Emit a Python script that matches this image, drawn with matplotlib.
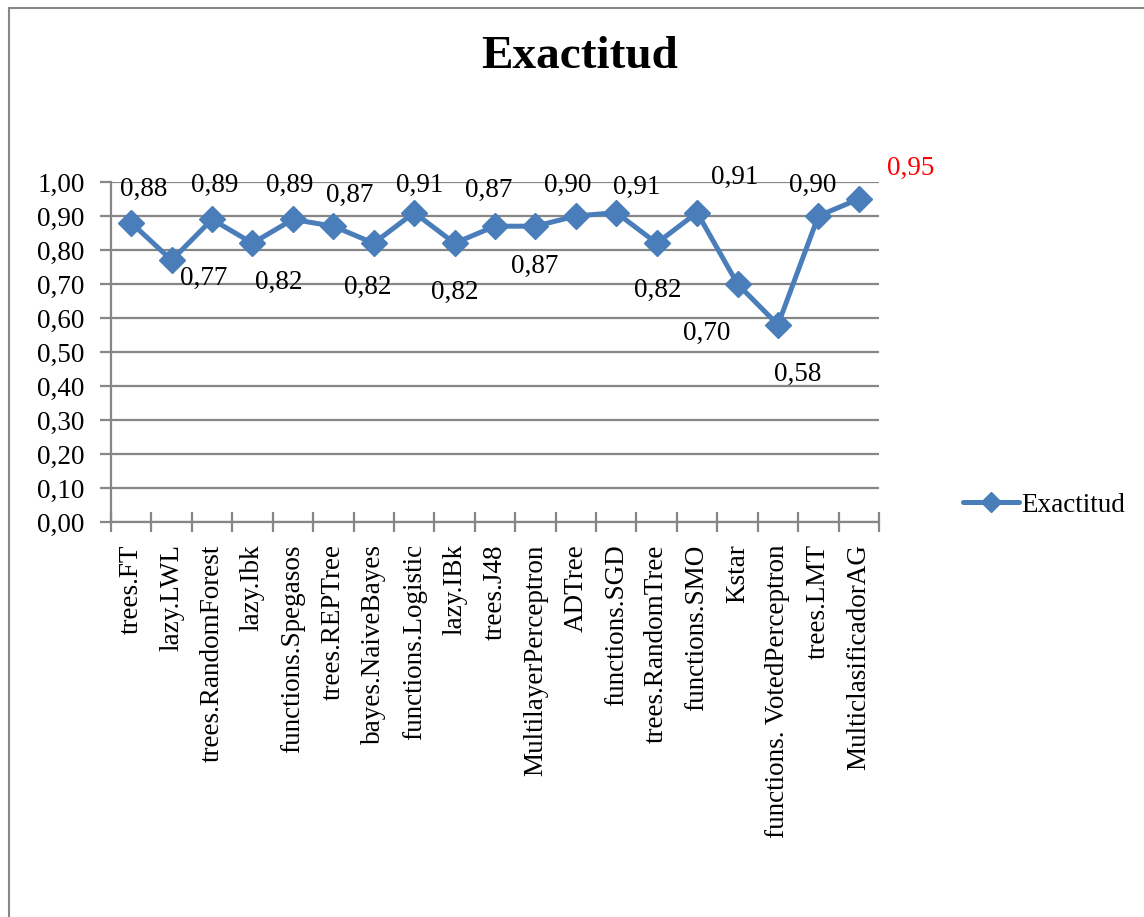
import matplotlib
matplotlib.use("Agg")
import matplotlib.pyplot as plt
from matplotlib.patches import Rectangle
from matplotlib.lines import Line2D
import numpy as np

plt.rcParams["font.family"] = ["Liberation Serif", "DejaVu Serif"]

# Clasificadores y su exactitud
clasificadores = [
    "trees.FT", "lazy.LWL", "trees.RandomForest", "lazy.Ibk",
    "functions.Spegasos", "trees.REPTree", "bayes.NaiveBayes",
    "functions.Logistic", "lazy.IBk", "trees.J48", "MultilayerPerceptron",
    "ADTree", "functions.SGD", "trees.RandomTree", "functions.SMO", "Kstar",
    "functions. VotedPerceptron", "trees.LMT", "MulticlasificadorAG",
]
exactitud = [0.88, 0.77, 0.89, 0.82, 0.89, 0.87, 0.82, 0.91, 0.82, 0.87,
             0.87, 0.90, 0.91, 0.82, 0.91, 0.70, 0.58, 0.90, 0.95]
y_ticks = [0.0, 0.1, 0.2, 0.3, 0.4, 0.5, 0.6, 0.7, 0.8, 0.9, 1.0]

# label placement (pixel offsets from each marker)
label_dx = [12, 32, 3, 26, -3, 16, -6, 6, 0, -6, -1, -8, 20, 1, 38, -31, 20, -6, 52]
label_dy = [33, -18, 34, -39, 34, 31, -44, 27, -49, 36, -40, 31, 25, -47, 35, -49, -50, 31, 31]

W, H = 1144, 917
LINE_BLUE = "#4A7EBB"
GRID = "#868686"
FS = 19.5

fig = plt.figure(figsize=(W / 100, H / 100), dpi=100)
fig.patch.set_facecolor("white")

# chart border (extends past the right and bottom edge)
fig.patches.append(Rectangle((9 / W, -0.1), 1.2, 1 - 8 / H + 0.1, transform=fig.transFigure,
                             fill=False, edgecolor="#868686", linewidth=1.5))

ax = fig.add_axes([111 / W, 1 - 522 / H, (879 - 111) / W, (522 - 182) / H])
x = np.arange(len(clasificadores))
ax.plot(x, exactitud, color=LINE_BLUE, linewidth=3.6, marker="D", markersize=13,
        markerfacecolor=LINE_BLUE, markeredgecolor=LINE_BLUE, zorder=3, clip_on=False)

ax.set_xlim(-0.5, len(clasificadores) - 0.5)
ax.set_ylim(0, 1)
ax.set_yticks(y_ticks)
ax.set_yticklabels([f"{v:.2f}".replace(".", ",") for v in y_ticks], fontsize=FS)
ax.yaxis.grid(True, color=GRID, linewidth=1.6)
ax.set_axisbelow(True)
ax.tick_params(axis="y", length=8, width=1.6, color=GRID, pad=11)

# x ticks on category boundaries, labels centred on categories
ax.set_xticks(np.arange(-0.5, len(clasificadores), 1.0))
ax.set_xticklabels([])
ax.set_xticks(x, minor=True)
ax.set_xticklabels(clasificadores, minor=True, rotation=90, fontsize=FS, va="top")
ax.tick_params(axis="x", which="major", direction="inout", length=14, width=1.6, color=GRID)
ax.tick_params(axis="x", which="minor", length=0, pad=16)

for side in ["top", "right"]:
    ax.spines[side].set_visible(False)
for side in ["left", "bottom"]:
    ax.spines[side].set_color(GRID)
    ax.spines[side].set_linewidth(1.6)

for i, v in enumerate(exactitud):
    color = "red" if i == len(exactitud) - 1 else "black"
    ax.annotate(f"{v:.2f}".replace(".", ","), (i, v), xytext=(label_dx[i], label_dy[i]),
                textcoords="offset pixels", ha="center", va="center",
                fontsize=FS, color=color, annotation_clip=False)

fig.text(580 / W, 1 - 57 / H, "Exactitud", ha="center", va="center",
         fontsize=34, fontweight="bold")

# legend
handle = Line2D([], [], color=LINE_BLUE, linewidth=3.6, marker="D", markersize=10,
                solid_capstyle="round")
fig.legend([handle], ["Exactitud"], loc="center left", bbox_to_anchor=(963 / W, 1 - 505 / H),
           frameon=False, fontsize=FS, handlelength=2.05, handletextpad=0.1,
           borderpad=0, borderaxespad=0)

fig.savefig("out.png", dpi=100)
